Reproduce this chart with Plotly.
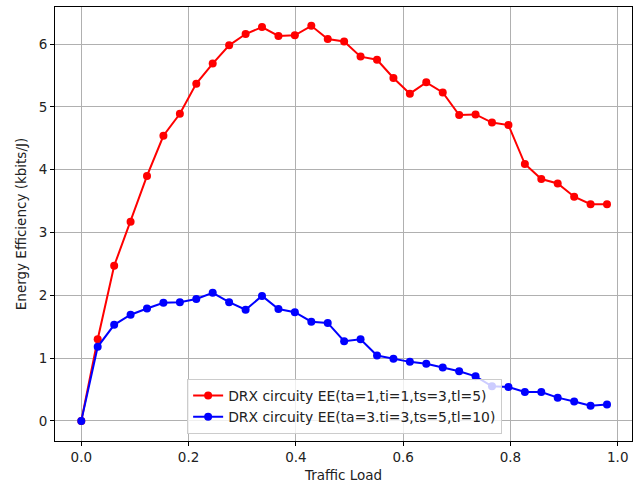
import plotly.graph_objects as go

traffic_load = [0.0, 0.0306, 0.0613, 0.0919, 0.1225, 0.1531, 0.1838, 0.2144, 0.245, 0.2756,
                0.3063, 0.3369, 0.3675, 0.3981, 0.4288, 0.4594, 0.49, 0.5206, 0.5513, 0.5819,
                0.6125, 0.6431, 0.6738, 0.7044, 0.735, 0.7656, 0.7963, 0.8269, 0.8575, 0.8881,
                0.9188, 0.9494, 0.98]

ee_red = [0.0, 1.30, 2.47, 3.17, 3.90, 4.54, 4.89, 5.37, 5.69, 5.98,
          6.16, 6.27, 6.13, 6.14, 6.29, 6.08, 6.04, 5.80, 5.75, 5.46,
          5.21, 5.39, 5.23, 4.87, 4.88, 4.75, 4.71, 4.09, 3.85, 3.78,
          3.57, 3.45, 3.45]

ee_blue = [0.0, 1.18, 1.53, 1.69, 1.79, 1.88, 1.89, 1.94, 2.04, 1.89,
           1.77, 1.99, 1.78, 1.73, 1.58, 1.56, 1.27, 1.30, 1.04, 0.99,
           0.94, 0.91, 0.85, 0.79, 0.71, 0.55, 0.54, 0.46, 0.46, 0.37,
           0.31, 0.24, 0.26]

name_red = "DRX circuity EE(ta=1,ti=1,ts=3,tl=5)"
name_blue = "DRX circuity EE(ta=3.ti=3,ts=5,tl=10)"

x_ticks = [0.0, 0.2, 0.4, 0.6, 0.8, 1.0]
x_tick_labels = ["0.0", "0.2", "0.4", "0.6", "0.8", "1.0"]
y_ticks = [0, 1, 2, 3, 4, 5, 6]

FONT = "DejaVu Sans"
FS = 13.5
TXT = "#222222"

fig = go.Figure()
fig.add_trace(go.Scatter(x=traffic_load, y=ee_red, mode="lines+markers", name=name_red,
                         line=dict(color="#ff0000", width=2),
                         marker=dict(color="#ff0000", size=8)))
fig.add_trace(go.Scatter(x=traffic_load, y=ee_blue, mode="lines+markers", name=name_blue,
                         line=dict(color="#0000ff", width=2),
                         marker=dict(color="#0000ff", size=8)))

axis_common = dict(showgrid=True, gridcolor="#b0b0b0", gridwidth=0.8,
                   showline=True, linecolor="black", linewidth=1, mirror=True,
                   ticks="outside", ticklen=4, tickcolor="black", zeroline=False,
                   automargin=False,
                   tickfont=dict(family=FONT, size=FS, color=TXT))

fig.update_xaxes(range=[-0.049, 1.0266], tickvals=x_ticks, ticktext=x_tick_labels,
                 title=dict(text="Traffic Load", font=dict(family=FONT, size=FS, color=TXT),
                            standoff=6),
                 **axis_common)
fig.update_yaxes(range=[-0.32, 6.59], tickvals=y_ticks,
                 title=dict(text="Energy Efficiency (kbits/J)",
                            font=dict(family=FONT, size=FS, color=TXT), standoff=8),
                 **axis_common)

fig.update_layout(
    width=643, height=487,
    margin=dict(l=55, r=11, t=7, b=46, autoexpand=False),
    plot_bgcolor="white", paper_bgcolor="white",
    font=dict(family=FONT, size=FS, color=TXT),
    legend=dict(x=0.229, y=0.016, xanchor="left", yanchor="bottom",
                bgcolor="rgba(255,255,255,0.8)", bordercolor="#cccccc", borderwidth=1,
                font=dict(family=FONT, size=13.9, color=TXT),
                tracegroupgap=0, itemwidth=30),
    showlegend=True,
)

fig.write_html("out.html", config={"displayModeBar": False},
               post_script="document.body.style.margin='0';")
